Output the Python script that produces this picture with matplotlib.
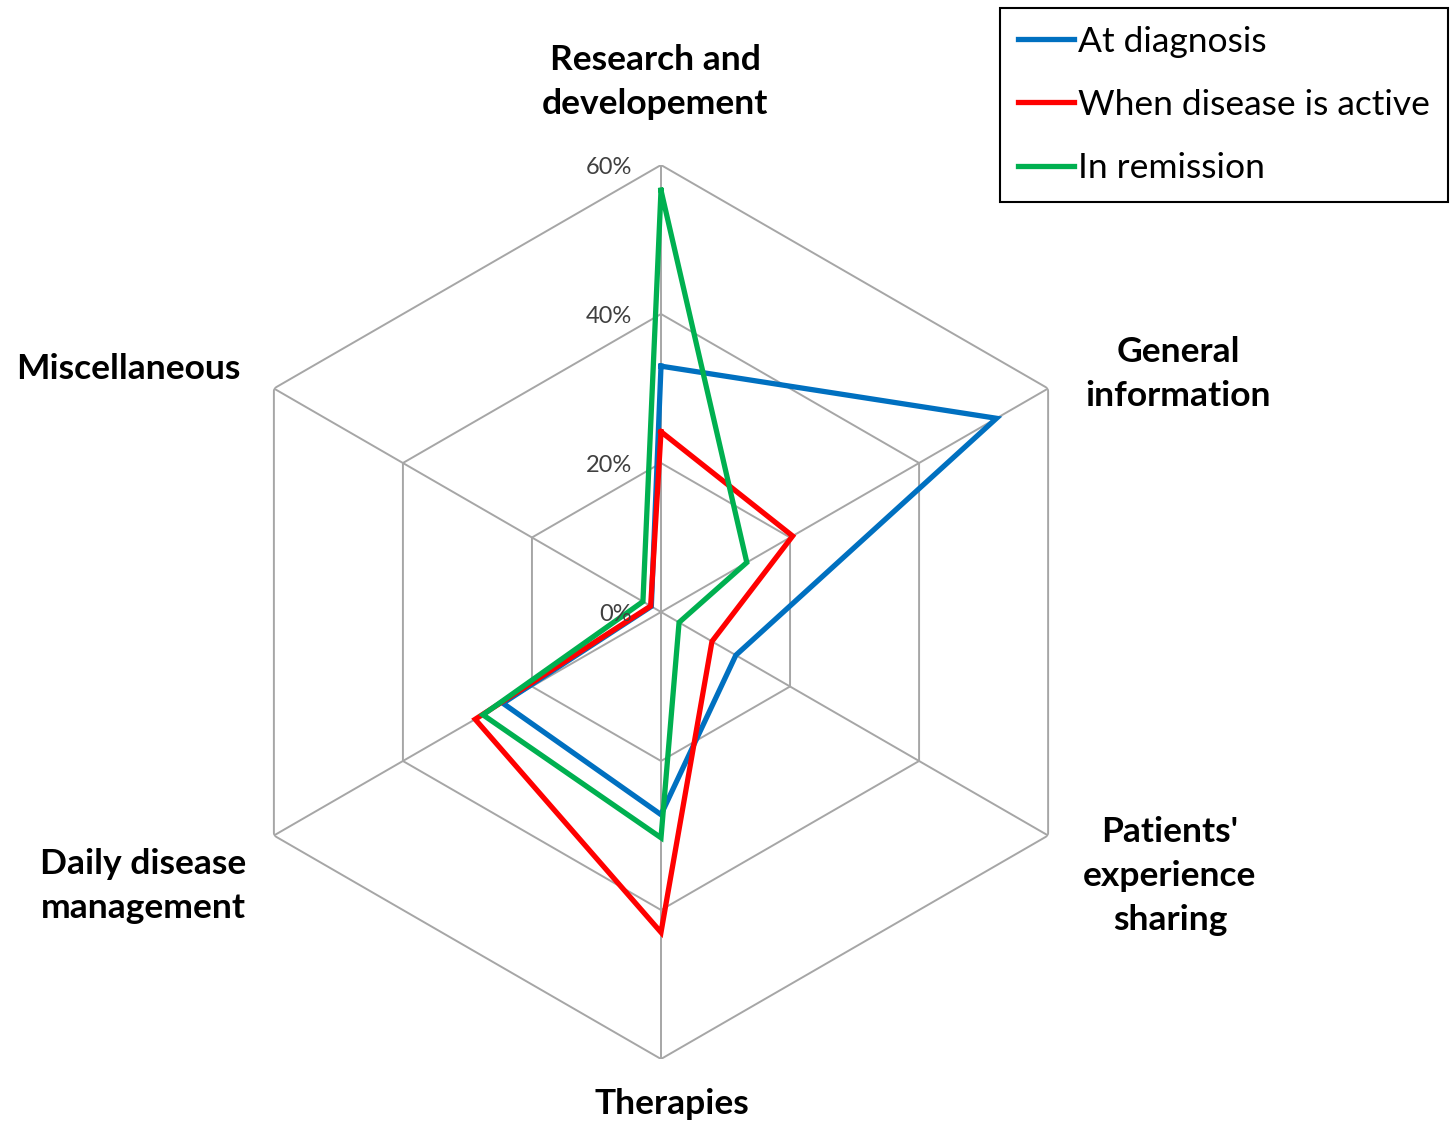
import numpy as np
import matplotlib
matplotlib.use("Agg")
import matplotlib.pyplot as plt

plt.rcParams['font.family'] = ['Lato', 'DejaVu Sans']

categories = ["Research and\ndevelopement", "General\ninformation", "Patients'\nexperience\nsharing",
              "Therapies", "Daily disease\nmanagement", "Miscellaneous"]
series_names = ["At diagnosis", "When disease is active", "In remission"]
at_diagnosis = [33, 52, 11.6, 27.2, 24.5, 1.5]
disease_active = [24.2, 20.4, 7.9, 43, 28.8, 1.6]
in_remission = [56.6, 13.3, 2.8, 30.3, 27.6, 2.8]
tick_values = [0, 20, 40, 60]
tick_labels = ["0%", "20%", "40%", "60%"]
colors = ["#0070C0", "#FF0000", "#00B050"]

W, H = 1453, 1122
fig = plt.figure(figsize=(W / 100, H / 100), dpi=100)
cx, cy, R = 661, 612, 447
ax = fig.add_axes([(cx - R) / W, (H - cy - R) / H, 2 * R / W, 2 * R / H], projection='polar')
ax.set_theta_zero_location('N')
ax.set_theta_direction(-1)
ax.set_ylim(0, 60)
ax.grid(False)
ax.spines['polar'].set_visible(False)
ax.set_xticks([])
ax.set_yticks([])
ax.patch.set_visible(False)

n = len(categories)
theta = np.arange(n) * 2 * np.pi / n
theta_c = np.append(theta, theta[0])

grid_color = "#a6a6a6"
for v in tick_values[1:]:
    ax.plot(theta_c, [v] * (n + 1), color=grid_color, lw=1.4, zorder=1)
for t in theta:
    ax.plot([t, t], [0, 60], color=grid_color, lw=1.4, zorder=1)

for vals, name, c in zip([at_diagnosis, disease_active, in_remission], series_names, colors):
    v = np.append(vals, vals[0])
    ax.plot(theta_c, v, color=c, lw=3.8, label=name, zorder=3, solid_joinstyle='miter')

for v, lab in zip(tick_values, tick_labels):
    ax.annotate(lab, xy=(0, v), xytext=(-21, -1.5), textcoords='offset points',
                ha='right', va='center', fontsize=17, color='#404040', zorder=4)

label_pos = [(655, 82), (1178, 374), (1170, 876), (672, 1104), (143, 886), (128, 369)]
for lab, (x, y) in zip(categories, label_pos):
    fig.text(x / W, 1 - y / H, lab, ha='center', va='center', fontsize=25.5, fontweight='bold',
             linespacing=1.45, color='black')

leg = fig.legend(loc='upper right', bbox_to_anchor=(1448 / W, 1 - 8 / H), fontsize=25.5,
                 handlelength=1.6, handletextpad=0.12, labelspacing=0.88, borderpad=0.5,
                 borderaxespad=0, fancybox=False, edgecolor='black', framealpha=1)
leg.get_frame().set_linewidth(1.5)

fig.savefig("out.png", dpi=100)
